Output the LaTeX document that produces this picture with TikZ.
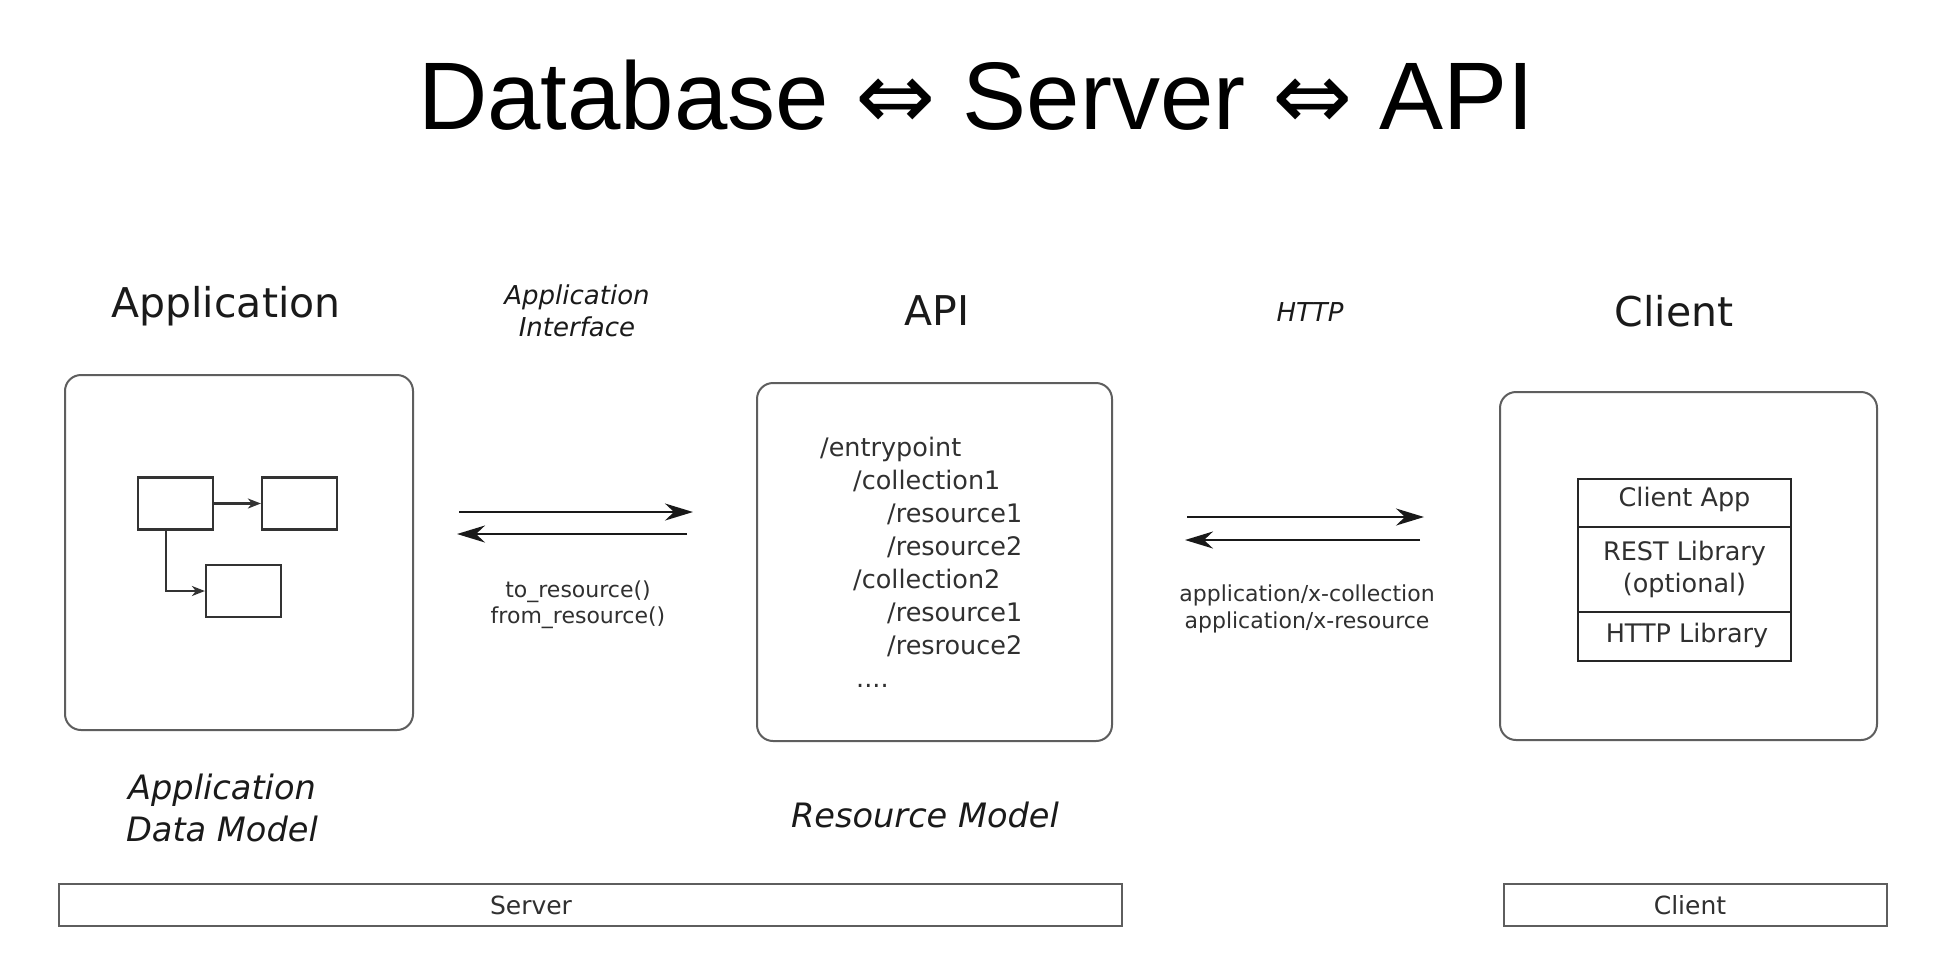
\documentclass[tikz,border=0pt]{standalone}
\usepackage{fontspec}
\setmainfont{DejaVu Sans}
\newfontfamily\titlefont{Liberation Sans}
\newfontfamily\arrowfont{DejaVu Sans}
\usetikzlibrary{arrows.meta}
\definecolor{boxgray}{HTML}{5E5E5E}
\definecolor{txtdark}{HTML}{1A1A1A}
\definecolor{txtbody}{HTML}{303030}
\begin{document}
\begin{tikzpicture}[x=1pt,y=-1pt,
  panel/.style={draw=boxgray, line width=2pt, rounded corners=16pt, inner sep=0pt},
  minibox/.style={draw=black!80, line width=2.2pt, minimum width=75pt, minimum height=52pt, inner sep=0pt},
  layer/.style={draw=black!85, line width=2pt, minimum width=213pt, inner sep=0pt, text=txtbody,
                font=\fontsize{25.5}{32}\selectfont, align=center},
  bar/.style={draw=boxgray, line width=2pt, minimum height=42pt, inner sep=0pt},
  heading/.style={text=txtdark, font=\fontsize{41}{48}\selectfont, inner sep=0pt},
  bigarrow/.style={line width=2.2pt, draw=black!90, -{Stealth[length=28pt,width=17pt,inset=9pt]}},
  smallarrow/.style={line width=2.2pt, draw=black!80, -{Stealth[length=13pt,width=10pt,inset=4pt]}},
  label/.style={text=txtbody, inner sep=0pt, align=center}
]
\useasboundingbox (0,0) rectangle (1934,954);
\fill[white] (0,0) rectangle (1934,954);

% title
\node[anchor=base, inner sep=0pt, text=black, font=\titlefont\fontsize{96}{110}\selectfont] (title) at (976,129)
  {Database {\arrowfont ⇔} Server {\arrowfont ⇔} API};

% headings
\node[heading] (happ) at (226,306) {Application};
\node[heading] (hapi) at (937,311) {API};
\node[heading] (hcli) at (1674,311) {Client};

% panels
\node[panel, minimum width=348pt, minimum height=355pt] (app) at (239,552.5) {};
\node[panel, minimum width=355pt, minimum height=358pt] (api) at (934.5,562) {};
\node[panel, minimum width=377pt, minimum height=348pt] (cli) at (1688.5,566) {};

% application data model boxes
\node[minibox] (ma) at (175.5,503.5) {};
\node[minibox] (mb) at (299.5,503.5) {};
\node[minibox] (mc) at (243.5,591) {};
\draw[smallarrow] (ma.east) -- (mb.west);
\draw[smallarrow] ([xshift=-9.5pt]ma.south) |- (mc.west);

% resource list (base anchor = baseline of last line)
\node[anchor=base west, inner sep=0pt, align=left, text=txtbody,
      font=\fontsize{25.5}{32.9}\selectfont] (list) at (820,687)
  {/entrypoint\\
   \hspace*{33pt}/collection1\\
   \hspace*{67pt}/resource1\\
   \hspace*{67pt}/resource2\\
   \hspace*{33pt}/collection2\\
   \hspace*{67pt}/resource1\\
   \hspace*{67pt}/resrouce2\\
   \hspace*{36pt}....};

% client stack
\node[layer, minimum height=48pt] (capp) at (1684.5,503) {};
\node[layer, minimum height=85pt] (crest) at (1684.5,569.5) {};
\node[layer, minimum height=49pt] (chttp) at (1684.5,636.5) {};
\node[label, font=\fontsize{25.5}{32}\selectfont] (tcapp) at (1684.5,499) {Client App};
\node[label, font=\fontsize{25.5}{32}\selectfont] (tcrest) at (1684.5,569) {REST Library\\(optional)};
\node[label, font=\fontsize{25.5}{32}\selectfont] (tchttp) at (1687,635) {HTTP Library};

% interface arrows
\coordinate (a1s) at (459,512); \coordinate (a1e) at (693,512);
\coordinate (a2s) at (687,534); \coordinate (a2e) at (457,534);
\draw[bigarrow] (a1s) -- (a1e);
\draw[bigarrow] (a2s) -- (a2e);
\coordinate (h1s) at (1187,517); \coordinate (h1e) at (1424,517);
\coordinate (h2s) at (1420,540); \coordinate (h2e) at (1185,540);
\draw[bigarrow] (h1s) -- (h1e);
\draw[bigarrow] (h2s) -- (h2e);

% labels
\node[label, text=txtdark, font=\fontsize{26}{32}\selectfont\itshape] (lai) at (577,311) {Application\\Interface};
\node[label, text=txtdark, font=\fontsize{26}{32}\selectfont\itshape] (lhttp) at (1310,312) {HTTP};
\node[label, font=\fontsize{22}{26}\selectfont] (lres) at (578,605) {to\_resource()\\from\_resource()};
\node[label, font=\fontsize{22}{27}\selectfont] (lmime) at (1307,608.5) {application/x-collection\\application/x-resource};
\node[label, text=txtdark, font=\fontsize{33.6}{42}\selectfont\itshape] (ladm) at (222,808) {Application\\Data Model};
\node[label, text=txtdark, font=\fontsize{33.6}{42}\selectfont\itshape] (lrm) at (925,815) {Resource Model};

% bottom bars
\node[bar, minimum width=1063pt] (srvbar) at (590.5,905) {};
\node[bar, minimum width=383pt] (clibar) at (1695.5,905) {};
\node[label, font=\fontsize{25}{30}\selectfont] (tsrv) at (531,905) {Server};
\node[label, font=\fontsize{25}{30}\selectfont] (tcli) at (1690,905) {Client};
\end{tikzpicture}
\end{document}
